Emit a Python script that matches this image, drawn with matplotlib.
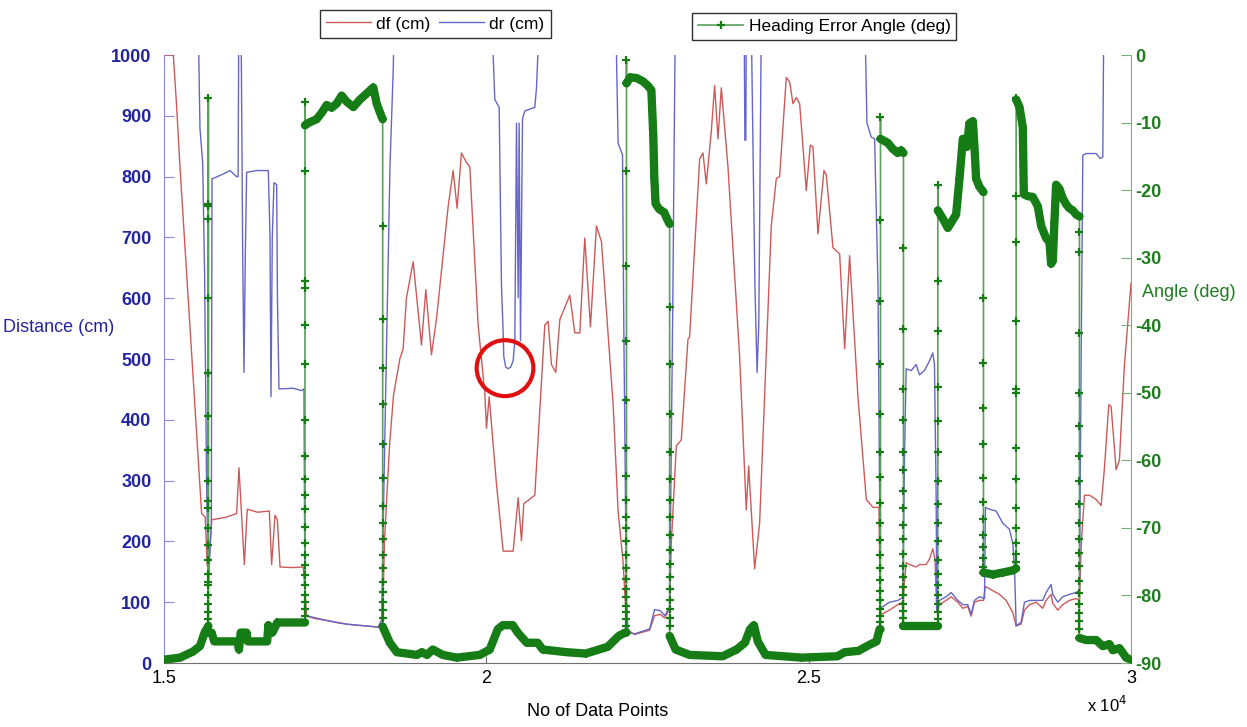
import numpy as np
import matplotlib
matplotlib.use("Agg")
import matplotlib.pyplot as plt
from matplotlib.lines import Line2D
from matplotlib.patches import Ellipse

plt.rcParams['font.family'] = ['Liberation Sans', 'DejaVu Sans']
plt.rcParams['axes.unicode_minus'] = False

# ────────────────────────────────────────────────────────────────
# DATA  (x = data point index, df/dr in cm, heading error in deg)
# ────────────────────────────────────────────────────────────────
df_x = [15000, 15145, 15197, 15248, 15584, 15640, 15670, 15700, 15740, 15765, 15972, 16127,
        16163, 16246, 16292, 16450, 16634, 16670, 16722, 16758, 16800, 17000, 17161, 17213,
        17350, 17523, 17700, 17833, 18000, 18143, 18324, 18392, 18420, 18500, 18560, 18658,
        18710, 18760, 18865, 18994, 19061, 19149, 19227, 19408, 19485, 19547, 19614, 19692,
        19744, 19873, 19976, 20002, 20044, 20157, 20261, 20416, 20494, 20545, 20581, 20752,
        20907, 20959, 21010, 21077, 21140, 21295, 21372, 21450, 21527, 21615, 21708, 21786,
        21967, 22044, 22122, 22180, 22300, 22533, 22610, 22700, 22766, 22843, 22869, 22947,
        23024, 23128, 23153, 23309, 23360, 23412, 23490, 23541, 23593, 23645, 23748, 23929,
        24032, 24069, 24162, 24239, 24420, 24498, 24549, 24653, 24705, 24756, 24808, 24860,
        24963, 25025, 25066, 25144, 25237, 25273, 25377, 25480, 25558, 25635, 25764, 25894,
        25997, 26090, 26110, 26124, 26253, 26382, 26460, 26512, 26563, 26667, 26718, 26822,
        26874, 26925, 26960, 26987, 27029, 27132, 27210, 27313, 27391, 27468, 27520, 27571,
        27649, 27711, 27742, 27804, 27959, 28063, 28166, 28218, 28295, 28347, 28425, 28528,
        28631, 28683, 28760, 28786, 28864, 28941, 29045, 29148, 29200, 29230, 29278, 29355,
        29459, 29536, 29588, 29655, 29691, 29769, 29820, 29898, 30000]
df_y = [1000, 1000, 914, 816, 246, 240, 160, 170, 236, 236, 240, 246,
        321, 162, 253, 248, 250, 162, 243, 236, 158, 157, 158, 77,
        73, 70, 66, 64, 62, 61, 59, 74, 200, 360, 440, 500,
        517, 600, 660, 523, 614, 507, 566, 751, 810, 748, 839, 823,
        816, 556, 445, 386, 438, 295, 184, 184, 272, 201, 262, 276,
        556, 562, 491, 478, 565, 605, 543, 543, 699, 553, 719, 693,
        425, 250, 165, 55, 47, 54, 78, 80, 74, 90, 197, 357,
        367, 533, 536, 829, 839, 788, 875, 950, 862, 946, 816, 504,
        252, 324, 155, 230, 719, 797, 800, 963, 956, 920, 930, 920,
        777, 852, 849, 706, 810, 803, 683, 673, 517, 670, 438, 269,
        256, 256, 90, 80, 87, 96, 100, 165, 162, 158, 162, 162,
        171, 188, 170, 85, 96, 103, 109, 100, 90, 93, 77, 100,
        103, 103, 126, 122, 113, 103, 83, 61, 64, 87, 96, 100,
        90, 103, 113, 98, 87, 96, 103, 106, 103, 200, 276, 276,
        269, 259, 321, 425, 422, 318, 334, 491, 625]

dr_x = [15530, 15540, 15558, 15600, 15630, 15660, 15690, 15735, 15745, 15765, 15972, 16024,
        16127, 16150, 16160, 16190, 16200, 16220, 16241, 16262, 16282, 16437, 16618, 16644,
        16660, 16680, 16706, 16748, 16760, 16784, 16825, 17000, 17135, 17171, 17187, 17239,
        17523, 17833, 18143, 18324, 18376, 18412, 18505, 18557, 18570, 20100, 20106, 20131,
        20199, 20235, 20261, 20271, 20300, 20338, 20380, 20416, 20442, 20468, 20494, 20509,
        20530, 20561, 20597, 20752, 20778, 20819, 22010, 22019, 22044, 22112, 22132, 22174,
        22200, 22300, 22533, 22610, 22700, 22766, 22843, 22869, 22895, 22910, 22931, 24000,
        24010, 24025, 24032, 24110, 24166, 24200, 24226, 24265, 25880, 25883, 25904, 25971,
        26023, 26075, 26100, 26110, 26253, 26382, 26434, 26460, 26486, 26512, 26589, 26667,
        26718, 26796, 26874, 26925, 26951, 26977, 26987, 27029, 27132, 27210, 27313, 27391,
        27468, 27520, 27571, 27649, 27727, 27742, 27804, 27907, 28011, 28114, 28166, 28195,
        28218, 28295, 28347, 28425, 28528, 28631, 28683, 28760, 28786, 28864, 28941, 29045,
        29148, 29200, 29226, 29252, 29300, 29459, 29520, 29562, 29577]
dr_y = [1050, 1000, 880, 823, 640, 300, 130, 230, 797, 797, 807, 810,
        800, 800, 1050, 1050, 990, 686, 478, 673, 807, 810, 810, 705,
        438, 700, 790, 787, 600, 451, 451, 452, 448, 451, 80, 77,
        70, 64, 61, 59, 70, 295, 816, 980, 1050, 1050, 1000, 927,
        914, 621, 543, 504, 487, 484, 487, 497, 530, 888, 601, 888,
        530, 895, 908, 914, 946, 1050, 1050, 1000, 855, 836, 556, 100,
        50, 48, 56, 88, 86, 78, 92, 360, 621, 816, 1050, 1050,
        860, 860, 1050, 1050, 621, 478, 556, 1050, 1050, 1000, 888, 865,
        862, 621, 283, 90, 100, 103, 106, 108, 334, 484, 481, 491,
        474, 481, 497, 510, 491, 276, 87, 103, 109, 116, 103, 96,
        96, 80, 103, 109, 106, 256, 253, 250, 230, 220, 197, 150,
        61, 67, 100, 103, 103, 103, 116, 129, 113, 100, 109, 113,
        116, 119, 491, 835, 838, 838, 830, 832, 1050]

# heading error: points sharing an x value are the fast jumps between levels
ang_x = ([15000, 15250, 15450, 15558, 15630, 15688]
         + [15688] * 18 + [15688] * 5
         + [15739, 15780, 16140, 16163, 16190, 16280, 16300, 16600, 16620, 16680, 16760, 17187]
         + [17187] * 22
         + [17250, 17368, 17450, 17523, 17600, 17678, 17756, 17833, 17937, 18040, 18143,
            18247, 18299, 18350, 18392]
         + [18392] * 17
         + [18503, 18612, 18922, 19000, 19080, 19170, 19325, 19542, 19898, 20053, 20177,
            20255, 20410, 20487, 20627, 20797, 20875, 21247, 21541, 21882, 22053, 22150, 22174]
         + [22174] * 21
         + [22230, 22330, 22430, 22500, 22560, 22590, 22605, 22625, 22680, 22760, 22800, 22843]
         + [22843] * 17
         + [22936, 23153, 23665, 23882, 24010, 24090, 24150, 24210, 24331, 24889, 25447,
            25556, 25773, 25943, 26052, 26100, 26114]
         + [26114] * 19
         + [26227, 26305, 26382, 26434, 26470]
         + [26470] * 19
         + [26951, 27003]
         + [27003] * 18
         + [27080, 27158, 27210, 27287, 27339, 27391, 27453, 27494, 27546, 27571, 27597,
            27649, 27711]
         + [27711] * 12
         + [27856, 28011, 28166, 28218]
         + [28218] * 14
         + [28270, 28321, 28337, 28399, 28476, 28554, 28606, 28683, 28735, 28761, 28786,
            28812, 28838, 28890, 28941, 28993, 29045, 29097, 29148, 29200]
         + [29200] * 19
         + [29304, 29459, 29562, 29666, 29717, 29820, 29924, 30000])
ang_y = ([-89.5, -89.2, -88.3, -87.5, -85.5, -84.5]
         + [-83.5, -82.5, -81.3, -80, -78.5, -76.8, -74.8, -72.5, -70, -67, -63, -58.5,
            -53.5, -47, -36, -24.2, -22.4, -6.3]
         + [-22, -47, -66, -78, -85.5]
         + [-85.5, -86.8, -86.8, -88, -85.5, -85.5, -86.8, -86.8, -84.4, -85.5, -84, -84]
         + [-83, -82, -81, -80, -78.5, -77, -75.5, -74, -72.2, -69.9, -67.2, -65.2, -62.8,
            -59.3, -54, -45.8, -40, -34.5, -33.5, -17.1, -6.9, -10.4]
         + [-10, -9.5, -8.5, -7.4, -7.8, -7.2, -6, -6.9, -7.7, -6.6, -5.7, -4.8, -7.2, -8.5, -9.5]
         + [-25.3, -39.1, -46.4, -51.7, -57.6, -62.6, -66.7, -69.3, -71.6, -74, -76, -78,
            -79.5, -81, -82.2, -83.3, -84.6]
         + [-87, -88.4, -88.8, -88.4, -88.8, -88, -88.8, -89.2, -88.8, -88, -85, -84.4,
            -84.4, -85.5, -87, -87, -88, -88.4, -88.6, -87.6, -86, -85.5, -85.5]
         + [-84.5, -83.5, -82.5, -81.5, -80.3, -79, -77.5, -76, -74, -72, -70, -68.4, -65.8,
            -62.3, -58.2, -51.1, -42.3, -31.2, -17.1, -0.7, -4.2]
         + [-3.3, -3.4, -3.9, -4.5, -5.2, -12, -18, -22, -22.8, -23.3, -24.2, -25]
         + [-37.3, -45.8, -53.2, -58.7, -62.8, -65.8, -68.4, -71, -73.2, -75.3, -77.2, -79,
            -80.6, -82, -83.3, -84.5, -86]
         + [-88, -88.8, -89, -88, -87, -85, -84.4, -86.8, -88.8, -89.2, -89, -88.4, -88.2,
            -87.3, -86.8, -85, -85]
         + [-84, -83, -82, -80.7, -79.3, -77.7, -76, -74, -71.8, -69.3, -66.3, -62.5, -58.7,
            -53.2, -45.8, -36.4, -24.4, -9.2, -12.4]
         + [-13, -13.9, -14.5, -14.1, -14.5]
         + [-28.6, -40.6, -49.4, -54, -58.7, -61.5, -64.5, -67, -69.5, -71.7, -73.8, -75.6,
            -77.2, -78.7, -80, -81.2, -82.3, -83.4, -84.5]
         + [-84.5, -84.5]
         + [-83.5, -82.5, -81.3, -80, -78.5, -76.8, -74.7, -71.9, -69.3, -66.4, -63.1, -58.7,
            -54.1, -49.1, -40.9, -33.5, -19.2, -23]
         + [-24.2, -25.6, -24.8, -23.6, -18.3, -12.4, -13.6, -10.1, -9.8, -13.5, -18.3, -19.5, -20.3]
         + [-35.9, -45.6, -52.3, -57.6, -62.6, -66.1, -68.7, -71, -72.8, -74.5, -75.8, -76.6]
         + [-76.9, -76.6, -76.3, -76]
         + [-75, -73.8, -72.3, -70, -67, -62.8, -58.2, -50, -49.5, -39.4, -27.7, -20.9, -6.3, -6.6]
         + [-7.7, -10.7, -20.6, -20.9, -21, -22.4, -25.3, -27.1, -27.7, -30.9, -30.5, -24.7,
            -19.2, -19.8, -21.2, -22.1, -22.7, -23, -23.6, -23.9]
         + [-26.2, -29.1, -41.2, -50, -54.9, -59.3, -63.1, -66.4, -69.3, -71.6, -73.7, -75.7,
            -77.8, -79.6, -81.2, -82.6, -83.8, -85, -86.3]
         + [-86.6, -86.6, -87.5, -87.2, -88.1, -87.8, -89.2, -89.5])

# highlighted spot (red circle)
circle_x = 20290
circle_d = 485

x_ticks = [15000, 20000, 25000, 30000]
x_tick_labels = ["1.5", "2", "2.5", "3"]

# ────────────────────────────────────────────────────────────────
# STYLE
# ────────────────────────────────────────────────────────────────
RED = '#cc5a5a'
BLUE = '#6666c8'
GREEN_LINE = '#5aa05a'
GREEN_DARK = '#167c16'
BLUE_TXT = '#2424a0'
GREEN_TXT = '#1e7e1e'

# ────────────────────────────────────────────────────────────────
# PLOT
# ────────────────────────────────────────────────────────────────
fig = plt.figure(figsize=(12.47, 7.27), dpi=100)
ax = fig.add_axes([0.1315, 0.088, 0.7755, 0.8363])

ax.plot(df_x, df_y, color=RED, lw=1.0)
ax.plot(dr_x, dr_y, color=BLUE, lw=1.0)
ax.set_xlim(15000, 30000)
ax.set_ylim(0, 1000)

ax2 = ax.twinx()
ax2.set_ylim(-90, 0)

ax_arr = np.array(ang_x, dtype=float)
ay_arr = np.array(ang_y, dtype=float)
ax2.plot(ax_arr, ay_arr, color=GREEN_LINE, lw=1.2, marker='+', ms=6,
         mec=GREEN_DARK, mew=1.6, zorder=3)

# slow parts of the signal are densely sampled -> thick band of markers
run = []
for i in range(len(ax_arr) - 1):
    if ax_arr[i + 1] != ax_arr[i]:
        if not run:
            run = [i]
        run.append(i + 1)
    else:
        if len(run) > 1:
            ax2.plot(ax_arr[run], ay_arr[run], color=GREEN_DARK, lw=6,
                     solid_capstyle='round', solid_joinstyle='round', zorder=4)
        run = []
if len(run) > 1:
    ax2.plot(ax_arr[run], ay_arr[run], color=GREEN_DARK, lw=6,
             solid_capstyle='round', solid_joinstyle='round', zorder=4)

ax2.add_patch(Ellipse((circle_x, circle_d), width=880, height=92, fill=False,
                      ec='#e01010', lw=3, transform=ax.transData, zorder=6))

# axes styling
for a in (ax, ax2):
    a.spines['top'].set_visible(False)
ax.spines['right'].set_visible(False)
ax2.spines['left'].set_visible(False)
ax2.spines['bottom'].set_visible(False)
ax.spines['left'].set_color('#8a8ad8')
ax.spines['bottom'].set_color('#707070')
ax2.spines['right'].set_color('#78b078')

ax.set_yticks(range(0, 1001, 100))
ax.tick_params(axis='y', direction='in', length=7, color='#8a8ad8',
               labelcolor=BLUE_TXT, labelsize=13, pad=9)
for t in ax.get_yticklabels():
    t.set_fontweight('bold')

ax2.set_yticks(range(-90, 1, 10))
ax2.tick_params(axis='y', direction='in', length=7, color='#78b078',
                labelcolor=GREEN_TXT, labelsize=13, pad=3)
for t in ax2.get_yticklabels():
    t.set_fontweight('bold')

ax.set_xticks(x_ticks)
ax.set_xticklabels(x_tick_labels)
ax.tick_params(axis='x', direction='in', length=5, color='#707070',
               labelsize=13, pad=5)

fig.text(0.047, 0.55, 'Distance (cm)', color=BLUE_TXT, fontsize=13, ha='center', va='center')
fig.text(0.953, 0.598, 'Angle (deg)', color=GREEN_TXT, fontsize=13, ha='center', va='center')
fig.text(0.4796, 0.021, 'No of Data Points', fontsize=13, ha='center', va='center')
fig.text(0.888, 0.03, r'x 10$^{4}$', fontsize=12, ha='center', va='center')

# legends above the plot
h1 = [Line2D([], [], color=RED, lw=1), Line2D([], [], color=BLUE, lw=1)]
leg1 = fig.legend(h1, ['df (cm)', 'dr (cm)'], loc='center', ncol=2,
                  bbox_to_anchor=(0.349, 0.967), fontsize=12.5, fancybox=False,
                  edgecolor='#303030', handlelength=2.6, columnspacing=0.5,
                  handletextpad=0.3, borderpad=0.35, framealpha=1)
leg1.get_frame().set_linewidth(1.0)
h2 = [Line2D([], [], color=GREEN_LINE, lw=1.2, marker='+', ms=6, mec=GREEN_DARK, mew=1.6)]
leg2 = fig.legend(h2, ['Heading Error Angle (deg)'], loc='center',
                  bbox_to_anchor=(0.661, 0.964), fontsize=12.5, fancybox=False,
                  edgecolor='#303030', handlelength=2.6, handletextpad=0.3,
                  borderpad=0.35, framealpha=1)
leg2.get_frame().set_linewidth(1.0)

fig.savefig('out.png', dpi=100)
